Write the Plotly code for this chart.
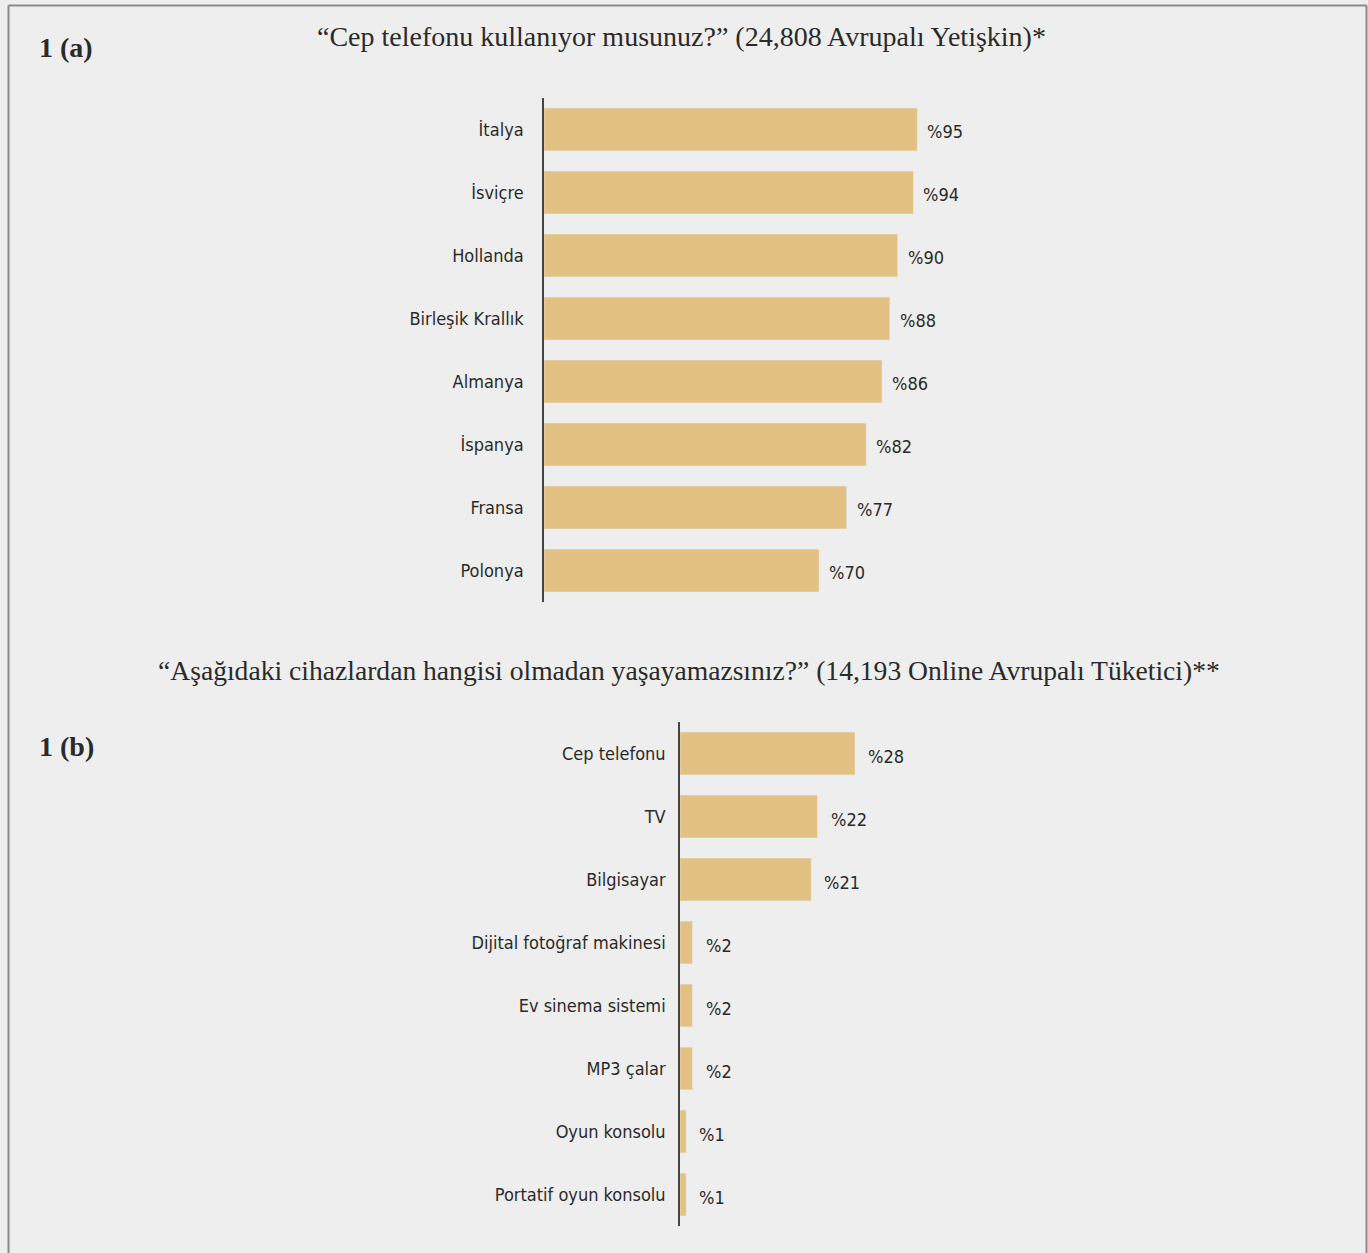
import plotly.graph_objects as go

W, H = 1368, 1253

countries = ["İtalya", "İsviçre", "Hollanda", "Birleşik Krallık", "Almanya", "İspanya", "Fransa", "Polonya"]
phone_use = [95, 94, 90, 88, 86, 82, 77, 70]

devices = ["Cep telefonu", "TV", "Bilgisayar", "Dijital fotoğraf makinesi", "Ev sinema sistemi",
           "MP3 çalar", "Oyun konsolu", "Portatif oyun konsolu"]
cant_live = [28, 22, 21, 2, 2, 2, 1, 1]

title_a = "“Cep telefonu kullanıyor musunuz?” (24,808 Avrupalı Yetişkin)*"
title_b = "“Aşağıdaki cihazlardan hangisi olmadan yaşayamazsınız?” (14,193 Online Avrupalı Tüketici)**"

BAR = "#E3C182"
TXT = "#2a2a2a"
LABEL_FONT = "Liberation Sans Narrow, DejaVu Sans Condensed, sans-serif"
SERIF = "Liberation Serif, DejaVu Serif, serif"

fig = go.Figure()
fig.add_trace(go.Bar(x=phone_use, y=countries, orientation="h", marker_color=BAR,
                     xaxis="x", yaxis="y", hoverinfo="skip", width=0.68))
fig.add_trace(go.Bar(x=cant_live, y=devices, orientation="h", marker_color=BAR,
                     xaxis="x2", yaxis="y2", hoverinfo="skip", width=0.68))

ann = []
for c, v in zip(countries, phone_use):
    ann.append(dict(x=v, y=c, xref="x", yref="y", text=f"%{v}", showarrow=False,
                    xanchor="left", xshift=8, yshift=-2,
                    font=dict(family=LABEL_FONT, size=18, color=TXT)))
for d, v in zip(devices, cant_live):
    ann.append(dict(x=v, y=d, xref="x2", yref="y2", text=f"%{v}", showarrow=False,
                    xanchor="left", xshift=11, yshift=-3,
                    font=dict(family=LABEL_FONT, size=18, color=TXT)))

ann += [
    dict(x=681.5 / W, y=1 - 36 / H, xref="paper", yref="paper", text=title_a, showarrow=False,
         xanchor="center", yanchor="middle", font=dict(family=SERIF, size=28, color=TXT)),
    dict(x=688.5 / W, y=1 - 670 / H, xref="paper", yref="paper", text=title_b, showarrow=False,
         xanchor="center", yanchor="middle", font=dict(family=SERIF, size=27.6, color=TXT)),
    dict(x=37 / W, y=1 - 47 / H, xref="paper", yref="paper", text="<b>1 (a)</b>", showarrow=False,
         xanchor="left", yanchor="middle", font=dict(family=SERIF, size=28, color=TXT)),
    dict(x=37 / W, y=1 - 746 / H, xref="paper", yref="paper", text="<b>1 (b)</b>", showarrow=False,
         xanchor="left", yanchor="middle", font=dict(family=SERIF, size=28, color=TXT)),
]

xa = (544 / W, 1.0)
xb = (680 / W, 1.0)
scale_a = 3.93
scale_b = 6.25

yaxis_common = dict(type="category", showline=True, linecolor="#444444", linewidth=1.5,
                    ticks="outside", tickcolor="rgba(0,0,0,0)", showgrid=False,
                    zeroline=False, tickfont=dict(family=LABEL_FONT, size=18, color=TXT),
                    fixedrange=True)
xaxis_common = dict(visible=False, showgrid=False, zeroline=False, fixedrange=True)

border = dict(color="#8a8a8a", width=2)
fig.update_layout(
    width=W, height=H,
    margin=dict(l=0, r=0, t=0, b=0),
    paper_bgcolor="#eeeeee", plot_bgcolor="rgba(0,0,0,0)",
    showlegend=False,
    xaxis=dict(domain=list(xa), range=[0, (W - 544) / scale_a], anchor="y", **xaxis_common),
    yaxis=dict(domain=[1 - 602 / H, 1 - 98 / H], range=[7.5, -0.5], anchor="x", ticklen=15, **yaxis_common),
    xaxis2=dict(domain=list(xb), range=[0, (W - 680) / scale_b], anchor="y2", **xaxis_common),
    yaxis2=dict(domain=[1 - 1226 / H, 1 - 722 / H], range=[7.5, -0.5], anchor="x2", ticklen=9, **yaxis_common),
    annotations=ann,
    shapes=[
        dict(type="line", xref="paper", yref="paper", x0=8.5 / W, x1=8.5 / W, y0=0, y1=1 - 5.5 / H, line=border),
        dict(type="line", xref="paper", yref="paper", x0=8.5 / W, x1=1366.5 / W, y0=1 - 5.5 / H, y1=1 - 5.5 / H, line=border),
        dict(type="line", xref="paper", yref="paper", x0=1366.5 / W, x1=1366.5 / W, y0=0, y1=1 - 5.5 / H, line=border),
    ],
)

fig.write_html("out.html", config={"displayModeBar": False},
               post_script="document.body.style.margin='0';document.body.style.overflow='hidden';")
